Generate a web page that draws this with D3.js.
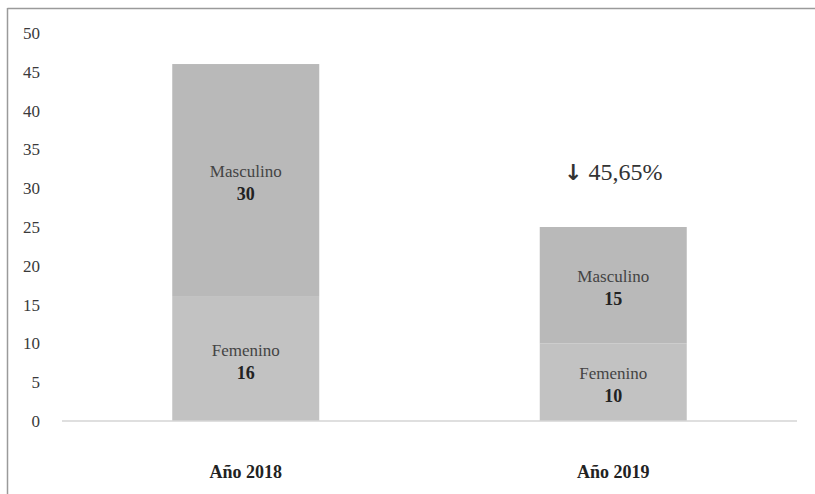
<!DOCTYPE html>
<html>
<head>
<meta charset="utf-8">
<script src="https://cdn.jsdelivr.net/npm/d3@7"></script>
<style>
  html, body { margin: 0; padding: 0; background: #fff; }
  svg { display: block; }
</style>
</head>
<body>
<svg id="chart" width="815" height="494"></svg>
<script>
// Casos por año, desagregados por sexo
const years = ["Año 2018", "Año 2019"];
const femenino = [16, 10];
const masculino = [30, 15];
const yTicks = [0, 5, 10, 15, 20, 25, 30, 35, 40, 45, 50];
const changeArrow = "↓";
const changeLabel = "45,65%";

const svg = d3.select("#chart");
const font = "'Liberation Serif', 'Times New Roman', serif";

// Chart frame (top and left edges)
svg.append("line").attr("x1", 7.5).attr("x2", 815).attr("y1", 8.5).attr("y2", 8.5)
  .attr("stroke", "#9a9a9a").attr("stroke-width", 1.5);
svg.append("line").attr("x1", 7.5).attr("x2", 7.5).attr("y1", 8).attr("y2", 494)
  .attr("stroke", "#9a9a9a").attr("stroke-width", 1.5);

const y = d3.scaleLinear().domain([0, 50]).range([421, 33]);
const x = d3.scaleBand().domain(years).range([62, 797]).paddingInner(0.6).paddingOuter(0.3);

// Y axis labels (no axis line)
const yAxis = d3.axisLeft(y).tickValues(yTicks).tickSize(0).tickPadding(0);
const gy = svg.append("g").attr("transform", "translate(40,0)").call(yAxis);
gy.select(".domain").remove();
gy.selectAll("text").attr("font-family", font).attr("font-size", 17).attr("fill", "#3a3a3a");

// Stacked bars
const stackData = years.map((yr, i) => ({ year: yr, Femenino: femenino[i], Masculino: masculino[i] }));
const series = d3.stack().keys(["Femenino", "Masculino"])(stackData);
const colors = { Femenino: "#c2c2c2", Masculino: "#b9b9b9" };

series.forEach(s => {
  svg.append("g").selectAll("rect").data(s).join("rect")
    .attr("x", d => x(d.data.year))
    .attr("width", x.bandwidth())
    .attr("y", d => y(d[1]))
    .attr("height", d => y(d[0]) - y(d[1]))
    .attr("fill", colors[s.key]);

  // Segment labels: series name and value
  const lbl = svg.append("g").selectAll("g").data(s).join("g")
    .attr("transform", d => `translate(${x(d.data.year) + x.bandwidth() / 2},${(y(d[0]) + y(d[1])) / 2})`);
  lbl.append("text").attr("text-anchor", "middle").attr("y", -3)
    .attr("font-family", font).attr("font-size", 17).attr("fill", "#444")
    .text(s.key);
  lbl.append("text").attr("text-anchor", "middle").attr("y", 20)
    .attr("font-family", font).attr("font-size", 18).attr("font-weight", "bold").attr("fill", "#222")
    .text(d => d[1] - d[0]);
});

// Baseline
svg.append("line").attr("x1", 62).attr("x2", 797).attr("y1", y(0)).attr("y2", y(0))
  .attr("stroke", "#d4d4d4").attr("stroke-width", 1.5);

// Category labels
const gx = svg.append("g").attr("transform", `translate(0,${y(0)})`)
  .call(d3.axisBottom(x).tickSize(0).tickPadding(0));
gx.select(".domain").remove();
gx.selectAll("text").attr("y", 57).attr("dy", 0)
  .attr("font-family", font).attr("font-size", 18).attr("font-weight", "bold").attr("fill", "#222");

// Change annotation above the 2019 bar
const totals2019 = femenino[1] + masculino[1];
const ann = svg.append("text")
  .attr("x", x(years[1]) + x.bandwidth() / 2)
  .attr("y", y(totals2019) - 47)
  .attr("text-anchor", "middle")
  .attr("font-family", font).attr("font-size", 24).attr("fill", "#333");
ann.append("tspan").attr("font-family", "'DejaVu Sans', sans-serif").attr("font-weight", "bold").attr("font-size", 22).text(changeArrow);
ann.append("tspan").text(" " + changeLabel);
</script>
</body>
</html>
